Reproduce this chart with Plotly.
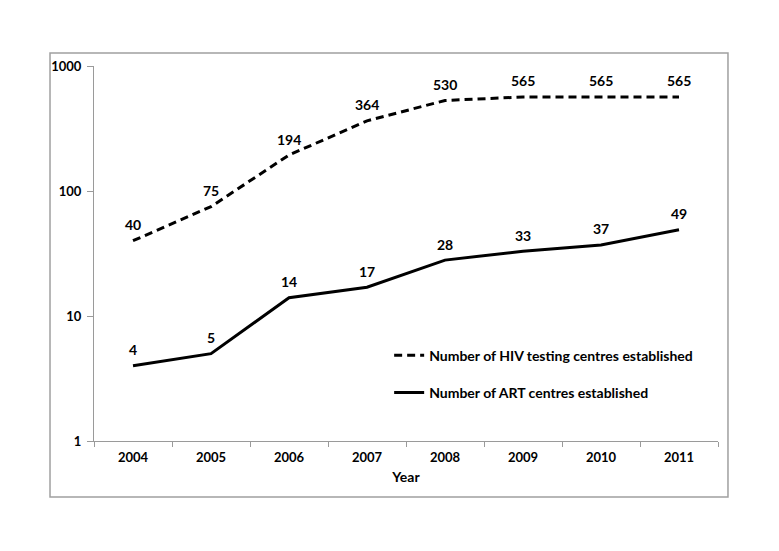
import math
import plotly.graph_objects as go

years = ["2004", "2005", "2006", "2007", "2008", "2009", "2010", "2011"]
hiv_testing = [40, 75, 194, 364, 530, 565, 565, 565]
art_centres = [4, 5, 14, 17, 28, 33, 37, 49]
y_ticks = [1, 10, 100, 1000]
y_tick_labels = ["1", "10", "100", "1000"]

FONT = "Lato, Carlito, 'Open Sans', sans-serif"
LABEL_FONT = dict(family=FONT, size=14, color="black", weight="bold")

fig = go.Figure()
fig.add_trace(go.Scatter(
    x=years, y=hiv_testing, mode="lines",
    name="Number of HIV testing centres established",
    line=dict(color="black", width=3, dash="8px,5px"),
    legendgroup="a",
))
fig.add_trace(go.Scatter(
    x=years, y=art_centres, mode="lines",
    name="Number of ART centres established",
    line=dict(color="black", width=3),
    legendgroup="b",
))

annotations = []
for series in (hiv_testing, art_centres):
    for i, v in enumerate(series):
        annotations.append(dict(
            x=i, y=math.log10(v), xref="x", yref="y", text=str(v), showarrow=False,
            yshift=16, font=LABEL_FONT,
        ))

fig.update_layout(
    width=763, height=535,
    margin=dict(l=86, r=53, t=58, b=102),
    paper_bgcolor="white", plot_bgcolor="white",
    font=dict(family=FONT, size=13, color="black", weight="bold"),
    showlegend=True,
    legend=dict(
        x=0.473, y=0.27, xanchor="left", yanchor="top",
        bgcolor="rgba(0,0,0,0)", itemwidth=30, tracegroupgap=16,
        font=dict(family=FONT, size=14, color="black", weight="bold"),
    ),
    xaxis=dict(
        type="category", range=[-0.5, 7.5], showgrid=False,
        showline=True, linecolor="#9a9a9a", linewidth=1,
        ticks="outside", tickson="boundaries", ticklen=5, tickcolor="#9a9a9a",
        ticklabelstandoff=4,
        tickfont=dict(family=FONT, size=13, color="black", weight="bold"),
        title=dict(text="Year", font=dict(family=FONT, size=14, color="black", weight="bold"), standoff=8),
    ),
    yaxis=dict(
        type="log", range=[0, 3], showgrid=False, zeroline=False,
        showline=True, linecolor="#9a9a9a", linewidth=1,
        ticks="outside", ticklen=6, tickcolor="#9a9a9a",
        ticklabelstandoff=3,
        tickvals=y_ticks, ticktext=y_tick_labels,
        tickfont=dict(family=FONT, size=13, color="black", weight="bold"),
    ),
    annotations=annotations,
    shapes=[dict(
        type="rect", xref="paper", yref="paper",
        x0=-0.0705, x1=1.016, y0=-0.149, y1=1.0347,
        line=dict(color="#a0a0a0", width=1.5), fillcolor="rgba(0,0,0,0)", layer="below",
    )],
)

fig.write_html("out.html")
